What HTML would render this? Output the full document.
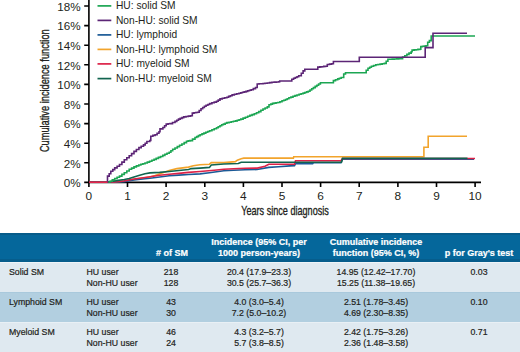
<!DOCTYPE html>
<html><head><meta charset="utf-8">
<style>
*{margin:0;padding:0;box-sizing:border-box}
html,body{width:520px;height:352px;overflow:hidden;background:#fff;font-family:"Liberation Sans",sans-serif;color:#231f20}
#chart{position:absolute;left:0;top:0}
.t{position:absolute;white-space:nowrap;line-height:1}
.tbl{position:absolute;left:0;width:520px}
.hdr .c{font-size:9px}
.hdr{top:233px;height:29px;background:linear-gradient(#075c8a 0,#075c8a 1.5px,#05679b 1.5px,#05679b 25.5px,#065d8c 25.5px,#065d8c 29px);color:#fff;font-weight:bold;font-size:8.9px}
.r1{top:262px;height:30px;background:linear-gradient(#eef4f8 0,#eef4f8 1px,#dfe9f0 1px)}
.r2{top:292px;height:31px;background:linear-gradient(#a9c9dc 0,#a9c9dc 1px,#b2cfe0 1px,#b2cfe0 30px,#e9f0f5 30px)}
.r3{top:323px;height:29px;background:#dfe9f0}
.c{position:absolute;white-space:nowrap;font-size:8.75px;line-height:11px;-webkit-text-stroke:0.2px currentColor}
.cc{text-align:center}
</style></head><body>
<svg id="chart" width="520" height="230" viewBox="0 0 520 230">
<g font-family="Liberation Sans" font-size="10.8" fill="#231f20" text-anchor="end">
<text transform="translate(80.7,10.7) scale(1.08,1)">18%</text>
<text transform="translate(80.7,30.3) scale(1.08,1)">16%</text>
<text transform="translate(80.7,49.9) scale(1.08,1)">14%</text>
<text transform="translate(80.7,69.5) scale(1.08,1)">12%</text>
<text transform="translate(80.7,89.1) scale(1.08,1)">10%</text>
<text transform="translate(80.7,108.7) scale(1.08,1)">8%</text>
<text transform="translate(80.7,128.3) scale(1.08,1)">6%</text>
<text transform="translate(80.7,147.9) scale(1.08,1)">4%</text>
<text transform="translate(80.7,167.5) scale(1.08,1)">2%</text>
<text transform="translate(80.7,187.1) scale(1.08,1)">0%</text>
</g>
<g font-family="Liberation Sans" font-size="10.8" fill="#231f20" text-anchor="middle">
<text transform="translate(88.9,200) scale(1.1,1)">0</text>
<text transform="translate(127.5,200) scale(1.1,1)">1</text>
<text transform="translate(166.1,200) scale(1.1,1)">2</text>
<text transform="translate(204.8,200) scale(1.1,1)">3</text>
<text transform="translate(243.4,200) scale(1.1,1)">4</text>
<text transform="translate(282.0,200) scale(1.1,1)">5</text>
<text transform="translate(320.6,200) scale(1.1,1)">6</text>
<text transform="translate(359.2,200) scale(1.1,1)">7</text>
<text transform="translate(397.9,200) scale(1.1,1)">8</text>
<text transform="translate(436.5,200) scale(1.1,1)">9</text>
<text transform="translate(475.1,200) scale(1.1,1)">10</text>
</g>
<g stroke="#000" stroke-width="1.6" fill="none">
<path d="M88.9,0 V182.4 H481"/>
<path d="M84.2,182.4 H89 M84.2,162.8 H89 M84.2,143.2 H89 M84.2,123.6 H89 M84.2,104.0 H89 M84.2,84.4 H89 M84.2,64.8 H89 M84.2,45.2 H89 M84.2,25.6 H89 M84.2,6.0 H89"/>
<path d="M88.9,182 V187 M127.5,182 V187 M166.1,182 V187 M204.8,182 V187 M243.4,182 V187 M282.0,182 V187 M320.6,182 V187 M359.2,182 V187 M397.9,182 V187 M436.5,182 V187 M475.1,182 V187"/>
</g>
<g fill="none" stroke-width="1.6" stroke-linejoin="miter" stroke-linecap="butt">
<path d="M89.0,182.2 L108.0,182.2 L124.3,181.3 L134.0,179.4 L145.0,177.9 L150.0,177.0 L155.0,175.6 L160.0,173.8 L165.0,172.0 L169.2,170.5 L176.9,168.6 L188.5,167.1 L193.3,165.7 L200.0,164.7 L209.4,164.2 L211.3,162.6 L223.8,162.6 L235.4,161.6 L237.3,160.2 L241.2,158.7 L243.8,158.1 L293.4,158.1 L293.7,156.8 L423.9,156.8 L423.9,147.2 L428.2,147.2 L428.2,136.2 L467.0,136.2" stroke="#f2a42c"/>
<path d="M89.0,182.2 L110.0,182.2 L124.3,181.6 L134.0,180.0 L145.0,178.7 L150.0,178.2 L169.2,175.8 L178.8,175.1 L188.5,174.5 L200.0,173.9 L209.4,172.7 L223.8,170.8 L233.5,170.3 L245.0,169.8 L257.0,169.5 L268.8,167.4 L278.5,166.8 L290.0,165.9 L294.5,165.8 L295.5,163.6 L312.7,163.6 L313.5,162.8 L341.0,162.8 L342.5,159.2 L474.0,159.2" stroke="#1b5a96"/>
<path d="M89.0,182.2 L107.0,182.2 L115.0,182.0 L124.3,180.9 L134.0,179.0 L145.0,177.5 L150.0,176.8 L159.6,175.3 L169.2,174.3 L178.8,173.4 L188.5,172.4 L200.0,171.5 L214.2,170.3 L223.8,169.3 L233.5,168.8 L245.0,168.3 L257.3,168.1 L265.0,166.3 L268.8,164.3 L294.5,164.3 L295.5,160.7 L341.0,160.7 L342.5,158.5 L475.0,158.5" stroke="#dc2247"/>
<path d="M89.0,182.2 L107.8,182.0 L114.7,180.9 L124.3,179.5 L129.2,178.5 L134.0,177.0 L138.8,175.6 L145.0,173.7 L150.0,172.9 L159.6,172.4 L169.2,171.5 L178.8,170.5 L188.5,169.5 L191.3,168.6 L200.0,168.1 L209.4,167.4 L211.3,165.0 L223.8,164.0 L238.3,163.5 L241.2,162.2 L341.5,162.2 L342.5,158.3 L467.5,158.3" stroke="#11644f"/>
<path d="M89.0,182.2 H91.1 V182.2 H93.2 V182.2 H95.2 V182.1 H97.3 V182.1 H99.4 V182.1 H101.5 V182.1 H103.5 V182.0 H105.6 V182.0 H107.7 V182.0 H110.0 V181.3 H112.3 V179.9 H114.7 V178.5 H117.1 V177.3 H119.5 V176.1 H121.9 V174.4 H124.3 V172.7 H126.8 V171.0 H129.2 V169.3 H131.6 V168.1 H134.0 V166.9 H136.4 V165.9 H138.8 V165.0 H140.9 V164.3 H142.9 V163.7 H145.0 V163.0 H147.3 V162.1 H149.6 V161.2 H151.9 V160.3 H154.1 V159.4 H156.2 V158.4 H158.4 V157.4 H160.6 V156.5 H162.8 V155.4 H164.9 V154.3 H167.0 V153.3 H169.2 V152.2 H170.9 V150.8 H172.7 V149.3 H175.0 V148.0 H177.3 V146.6 H179.6 V145.3 H181.9 V144.0 H184.2 V142.6 H186.5 V141.3 H188.2 V140.9 H190.0 V140.6 H192.5 V139.1 H195.0 V137.5 H196.7 V136.6 H198.4 V135.6 H200.1 V134.7 H202.0 V133.9 H203.9 V133.1 H205.8 V132.3 H207.7 V131.5 H209.6 V130.7 H211.9 V129.7 H214.2 V128.8 H216.5 V127.8 H218.2 V126.8 H220.0 V125.8 H221.7 V124.8 H223.4 V124.1 H225.2 V123.3 H226.9 V122.6 H229.1 V122.2 H231.2 V121.8 H233.4 V121.3 H235.6 V120.9 H237.3 V120.3 H239.1 V119.7 H240.8 V119.1 H243.1 V118.1 H245.4 V117.2 H247.7 V116.2 H249.9 V115.4 H252.1 V114.6 H254.3 V113.8 H256.5 V112.7 H258.7 V111.6 H260.9 V110.3 H263.0 V109.0 H265.1 V108.0 H267.3 V106.9 H269.0 V104.7 H270.8 V104.1 H272.5 V103.4 H274.2 V103.1 H276.0 V102.8 H277.7 V102.5 H279.9 V101.7 H282.0 V100.8 H283.8 V100.2 H285.5 V99.5 H287.2 V98.7 H288.9 V97.8 H290.9 V97.1 H293.0 V96.3 H295.0 V95.6 H297.0 V95.0 H299.1 V94.3 H301.1 V93.7 H303.1 V93.1 H304.8 V92.5 H306.6 V91.9 H308.3 V91.3 H310.0 V90.0 H311.7 V88.7 H313.4 V87.6 H315.2 V86.4 H316.9 V85.3 H318.6 V84.0 H320.4 V82.7 L330.8,82.7 H333.4 V80.6 H335.5 V79.8 H337.7 V78.9 H339.4 V78.2 H341.2 V77.5 H343.7 V74.0 H345.5 V72.7 L365.4,72.7 H366.2 V70.3 H368.0 V68.3 H369.7 V67.2 H371.4 V66.2 H373.6 V65.5 H375.8 V64.8 H377.9 V64.5 H380.1 V64.1 H382.2 V63.8 H384.4 V63.4 H386.2 V61.3 H387.9 V59.3 H390.1 V59.2 H392.2 V59.1 H394.4 V59.0 H396.6 V58.9 H398.7 V58.8 H400.9 V58.7 H402.6 V57.0 H404.8 V55.7 H406.9 V54.4 H409.0 V53.1 H411.2 V51.8 H412.1 V50.1 H414.1 V49.9 H416.0 V49.7 H417.9 V49.4 H419.9 V49.2 H420.8 V46.6 H422.5 V46.3 H424.3 V46.1 H426.0 V45.8 H427.7 V42.3 H429.4 V40.6 H431.2 V36.0 L475.0,36.0" stroke="#1ca653"/>
<path d="M89.0,182.2 L107.5,182.2 L107.5,176.1 H109.2 V173.7 H110.8 V171.3 H112.8 V169.6 H114.7 V167.9 H117.1 V166.2 H119.5 V164.5 H121.9 V162.1 H124.3 V159.7 H126.8 V157.8 H129.2 V155.8 H131.6 V153.6 H134.0 V151.4 H136.4 V149.5 H138.9 V147.6 H141.2 V146.2 H143.5 V144.9 H145.2 V143.2 H146.9 V141.5 H149.8 V140.5 H150.8 V136.2 H152.9 V135.4 H155.1 V134.7 H157.1 V133.2 H159.0 V131.8 H160.0 V128.9 H162.9 V127.5 H164.6 V125.8 H166.2 V124.1 H168.1 V123.8 H170.0 V123.6 H172.5 V122.5 H175.0 V121.4 H176.8 V120.2 H178.5 V119.1 H180.2 V118.4 H182.0 V117.6 H183.7 V116.9 H186.0 V116.5 H188.3 V116.1 H190.6 V115.7 H192.3 V113.1 H194.0 V112.8 H195.8 V112.5 H197.5 V112.2 H199.2 V110.5 H201.0 V108.7 H202.7 V107.5 H204.4 V106.2 H206.1 V105.3 H207.9 V104.5 H209.6 V103.6 H211.9 V102.8 H214.2 V102.1 H216.5 V101.3 H218.2 V100.1 H220.0 V98.9 H222.3 V98.3 H224.6 V97.8 H226.9 V97.2 H228.6 V96.4 H230.4 V95.7 H232.1 V94.9 H234.4 V94.3 H236.7 V93.8 H239.0 V93.2 H240.8 V92.8 H242.5 V92.3 H244.2 V91.9 H246.0 V91.4 H247.7 V90.8 H249.5 V90.3 H251.2 V89.7 H253.3 V88.6 H255.5 V87.5 H257.2 V84.0 H259.1 V83.8 H261.1 V83.7 H263.1 V83.5 H265.0 V83.3 H267.3 V83.0 H269.6 V82.6 H271.9 V82.3 H274.2 V82.1 H276.5 V82.0 H278.8 V81.8 H279.7 V81.0 L291.0,81.0 H291.8 V79.2 H293.6 V78.3 H295.3 V77.5 H297.0 V76.7 H298.7 V75.8 H301.3 V73.2 H303.1 V70.9 H304.8 V69.2 L316.9,69.2 H317.8 V67.1 H319.8 V66.9 H321.7 V66.7 H323.7 V66.4 H325.6 V66.2 H327.3 V64.5 H329.5 V64.1 H331.6 V63.7 H333.4 V61.5 L359.3,61.5 L359.3,57.2 L425.2,57.2 L425.2,47.6 L433.0,47.6 L433.0,33.2 L467.0,33.2" stroke="#5c2576"/>
<path d="M89,182.2 H107.5" stroke="#e5244b"/>
</g>
<g stroke-width="1.7" fill="none">
<path d="M97.5,5.9 H111.3" stroke="#1ca653"/>
<path d="M97.5,20.4 H111.3" stroke="#5c2576"/>
<path d="M97.5,34.9 H111.3" stroke="#1b5a96"/>
<path d="M97.5,49.4 H111.3" stroke="#f2a42c"/>
<path d="M97.5,63.9 H111.3" stroke="#dc2247"/>
<path d="M97.5,78.6 H111.3" stroke="#11644f"/>
</g>
<g font-family="Liberation Sans" font-size="10.2" fill="#231f20">
<text x="116" y="9.1">HU: solid SM</text>
<text x="116" y="23.6">Non-HU: solid SM</text>
<text x="116" y="38.1">HU: lymphoid</text>
<text x="116" y="52.6">Non-HU: lymphoid SM</text>
<text x="116" y="67.1">HU: myeloid SM</text>
<text x="116" y="81.8">Non-HU: myeloid SM</text>
</g>
<text font-family="Liberation Sans" font-size="13" fill="#231f20" stroke="#231f20" stroke-width="0.35" text-anchor="middle" transform="translate(285,214.7) scale(0.7,1)">Years since diagnosis</text>
<text font-family="Liberation Sans" font-size="13.5" fill="#231f20" stroke="#231f20" stroke-width="0.35" text-anchor="middle" transform="translate(49.2,90.7) rotate(-90) scale(0.685,1)">Cumulative incidence function</text>
</svg>

<div class="tbl hdr">
 <div class="c cc" style="left:140px;width:64px;top:15px">
 # of SM</div>
 <div class="c cc" style="left:208px;width:102px;top:4px">Incidence (95% CI, per<br>1000 person-years)</div>
 <div class="c cc" style="left:325px;width:102px;top:4px">Cumulative incidence<br>function (95% CI, %)</div>
 <div class="c cc" style="left:438px;width:82px;top:15px">p for Gray's test</div>
</div>
<div class="tbl r1">
 <div class="c" style="left:9px;top:5px">Solid SM</div>
 <div class="c" style="left:86.5px;top:5px">HU user<br>Non-HU user</div>
 <div class="c cc" style="left:141px;width:60px;top:5px">218<br>128</div>
 <div class="c cc" style="left:208px;width:102px;top:5px">20.4 (17.9–23.3)<br>30.5 (25.7–36.3)</div>
 <div class="c cc" style="left:325px;width:102px;top:5px">14.95 (12.42–17.70)<br>15.25 (11.38–19.65)</div>
 <div class="c cc" style="left:438px;width:82px;top:5px">0.03</div>
</div>
<div class="tbl r2">
 <div class="c" style="left:9px;top:5px">Lymphoid SM</div>
 <div class="c" style="left:86.5px;top:5px">HU user<br>Non-HU user</div>
 <div class="c cc" style="left:141px;width:60px;top:5px">43<br>30</div>
 <div class="c cc" style="left:208px;width:102px;top:5px">4.0 (3.0–5.4)<br>7.2 (5.0–10.2)</div>
 <div class="c cc" style="left:325px;width:102px;top:5px">2.51 (1.78–3.45)<br>4.69 (2.30–8.35)</div>
 <div class="c cc" style="left:438px;width:82px;top:5px">0.10</div>
</div>
<div class="tbl r3">
 <div class="c" style="left:9px;top:3.6px">Myeloid SM</div>
 <div class="c" style="left:86.5px;top:3.6px">HU user<br>Non-HU user</div>
 <div class="c cc" style="left:141px;width:60px;top:3.6px">46<br>24</div>
 <div class="c cc" style="left:208px;width:102px;top:3.6px">4.3 (3.2–5.7)<br>5.7 (3.8–8.5)</div>
 <div class="c cc" style="left:325px;width:102px;top:3.6px">2.42 (1.75–3.26)<br>2.36 (1.48–3.58)</div>
 <div class="c cc" style="left:438px;width:82px;top:3.6px">0.71</div>
</div>
</body></html>
